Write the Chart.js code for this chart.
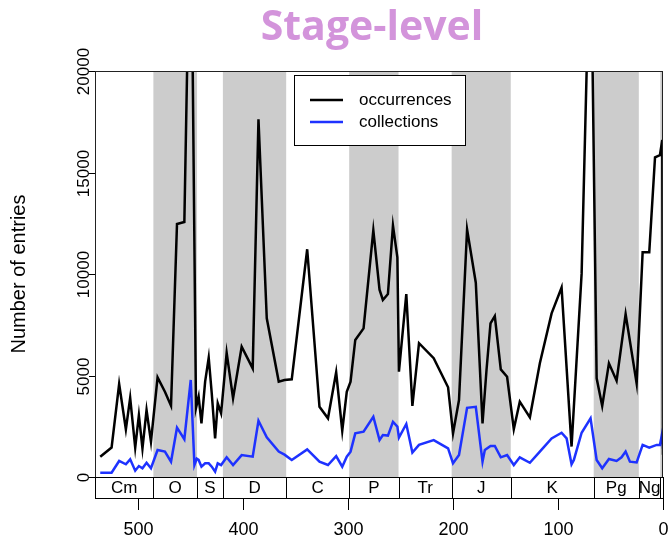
<!DOCTYPE html>
<html>
<head>
<meta charset="utf-8">
<script src="https://cdn.jsdelivr.net/npm/chart.js@4.4.1/dist/chart.umd.min.js"></script>
<style>
  body { margin: 0; background: #fff; }
  #wrap { width: 669px; height: 543px; }
</style>
</head>
<body>
<div id="wrap"><canvas id="stageChart" width="669" height="543"></canvas></div>
<script>
// ages in Ma, counts of PBDB entries per stage
const occAges = [536.0, 525.2, 518.0, 511.6, 507.5, 502.7, 499.2, 495.8, 491.9, 487.7,
  481.4, 474.4, 468.6, 462.9, 455.9, 449.8, 444.8, 442.3, 439.6, 436.1,
  432.7, 429.8, 426.6, 424.1, 420.9, 415.6, 409.5, 401.3, 390.8, 385.3,
  377.4, 366.0, 360.5, 353.6, 338.9, 327.2, 319.1, 311.3, 305.5, 301.2,
  297.6, 293.1, 285.2, 275.9, 270.0, 266.8, 262.0, 257.2, 253.0, 251.5,
  244.5, 238.7, 232.4, 218.4, 204.7, 200.0, 194.3, 186.6, 178.3, 171.9,
  168.1, 164.3, 160.2, 154.5, 148.5, 142.1, 136.4, 126.8, 117.3, 106.1,
  96.6, 87.1, 77.5, 69.0, 63.2, 57.9, 51.5, 44.2, 35.6, 25.1,
  19.4, 13.1, 7.6, 2.9, 0.7, 0.0];
const occurrences = [1000, 1450, 4580, 2350, 3900, 1450, 3050, 1410, 3300, 1740,
  4910, 4200, 3510, 12460, 12560, 30000, 3400, 3960, 2640, 4700,
  5880, 4120, 1900, 3630, 3140, 6120, 3880, 6420, 5350, 17620,
  7820, 4700, 4780, 4810, 11220, 3460, 2890, 5160, 2280, 4200,
  4700, 6750, 7320, 12150, 9230, 8720, 9010, 12380, 10820, 5190,
  9010, 3500, 6590, 5850, 4420, 2150, 3790, 12200, 9570, 2640,
  5270, 7570, 7930, 5300, 4940, 2360, 3710, 2940, 5600, 8060,
  9330, 1500, 10030, 27800, 4860, 3500, 5600, 4740, 8030, 4610,
  11070, 11070, 15750, 15860, 16600, 1100];

const colAges = [536.0, 525.2, 518.0, 511.6, 507.5, 502.7, 499.2, 495.8, 491.9, 487.7,
  481.4, 474.4, 468.6, 462.9, 455.9, 449.8, 446.3, 444.1, 442.3, 439.6,
  436.1, 432.7, 429.8, 426.6, 424.1, 420.9, 415.6, 409.5, 401.3, 390.8,
  385.3, 377.4, 366.0, 360.5, 353.6, 338.9, 327.2, 319.1, 311.3, 305.5,
  301.2, 297.6, 293.1, 285.2, 275.9, 270.0, 266.8, 262.0, 257.2, 253.0,
  251.5, 244.5, 238.7, 232.4, 218.4, 204.7, 200.0, 194.3, 186.6, 178.3,
  171.9, 169.7, 164.3, 160.2, 154.5, 148.5, 142.1, 136.4, 126.8, 117.3,
  106.1, 96.6, 91.8, 87.1, 84.9, 77.5, 69.0, 63.2, 57.9, 51.5,
  44.2, 39.5, 35.6, 31.5, 25.1, 19.4, 13.1, 6.0, 2.9, 0.7, 0.0];
const collections = [210, 210, 790, 625, 870, 310, 540, 430, 700, 430,
  1330, 1250, 755, 2430, 1860, 4780, 590, 900, 840, 510,
  675, 675, 510, 260, 675, 590, 970, 590, 1080, 1000,
  2770, 1950, 1250, 1100, 840, 1360, 755, 590, 1030, 510,
  1000, 1250, 2150, 2230, 2970, 1820, 2070, 2040, 2720, 2480,
  1940, 2610, 1200, 1580, 1820, 1410, 675, 1080, 3410, 3460,
  755, 1330, 1530, 1530, 970, 1080, 590, 970, 700, 1250,
  1900, 2180, 1900, 625, 840, 2180, 2890, 840, 430, 890,
  790, 970, 1250, 755, 720, 1580, 1440, 1580, 1580, 2180, 1400];

// geological periods (start, end in Ma)
const periodNames = ['Cm', 'O', 'S', 'D', 'C', 'P', 'Tr', 'J', 'K', 'Pg', 'Ng', ''];
const periodStart = [541, 485.4, 443.8, 419.2, 358.9, 298.9, 251.9, 201.3, 145, 66, 23.03, 2.58];
const periodEnd = [485.4, 443.8, 419.2, 358.9, 298.9, 251.9, 201.3, 145, 66, 23.03, 2.58, 0];
const periodShaded = [false, true, false, true, false, true, false, true, false, true, false, true];

const xTicks = [500, 400, 300, 200, 100, 0];
const yTicks = [0, 5000, 10000, 15000, 20000];

const FONT = '"Liberation Sans", Arial, sans-serif';

const decor = {
  id: 'decor',
  beforeDatasetsDraw(chart) {
    const { ctx, chartArea: a, scales: { x } } = chart;
    ctx.save();
    ctx.fillStyle = '#cccccc';
    periodNames.forEach((n, i) => {
      if (!periodShaded[i]) return;
      const x1 = x.getPixelForValue(periodStart[i]);
      const x2 = x.getPixelForValue(periodEnd[i]);
      ctx.fillRect(x1, a.top, x2 - x1, a.bottom - a.top);
    });
    ctx.restore();
  },
  afterDatasetsDraw(chart) {
    const { ctx, chartArea: a, scales: { x, y } } = chart;
    const boxBottom = a.bottom + 21;
    ctx.save();

    // frame
    ctx.strokeStyle = '#222';
    ctx.lineWidth = 1;
    ctx.strokeRect(a.left + 0.5, a.top + 0.5, a.right - a.left - 1, a.bottom - a.top);

    // period boxes
    ctx.strokeStyle = '#000';
    ctx.fillStyle = '#000';
    ctx.font = '17px ' + FONT;
    ctx.textAlign = 'center';
    ctx.textBaseline = 'middle';
    periodNames.forEach((n, i) => {
      const x1 = x.getPixelForValue(periodStart[i]);
      const x2 = x.getPixelForValue(periodEnd[i]);
      ctx.strokeRect(Math.round(x1) + 0.5, a.bottom + 0.5, Math.round(x2) - Math.round(x1), boxBottom - a.bottom);
      if (n) ctx.fillText(n, (x1 + x2) / 2, a.bottom + 11);
    });

    // x axis ticks and labels
    ctx.font = '18px ' + FONT;
    xTicks.forEach(v => {
      const px = Math.round(x.getPixelForValue(v)) + 0.5;
      ctx.beginPath();
      ctx.moveTo(px, boxBottom);
      ctx.lineTo(px, boxBottom + 12);
      ctx.stroke();
      ctx.fillText(String(v), px, boxBottom + 32);
    });

    // y axis ticks and rotated labels
    ctx.font = '17px ' + FONT;
    yTicks.forEach(v => {
      const py = Math.round(y.getPixelForValue(v)) + 0.5;
      ctx.beginPath();
      ctx.moveTo(a.left, py);
      ctx.lineTo(a.left - 6, py);
      ctx.stroke();
      ctx.save();
      ctx.translate(a.left - 11, py);
      ctx.rotate(-Math.PI / 2);
      ctx.fillText(String(v), 0, 0);
      ctx.restore();
    });

    // y axis title
    ctx.save();
    ctx.font = '20px ' + FONT;
    ctx.translate(19, (a.top + a.bottom) / 2);
    ctx.rotate(-Math.PI / 2);
    ctx.fillText('Number of entries', 0, 0);
    ctx.restore();

    // legend
    const lx = 294, ly = 75, lw = 171, lh = 70;
    ctx.fillStyle = '#fff';
    ctx.fillRect(lx, ly, lw, lh);
    ctx.strokeStyle = '#000';
    ctx.strokeRect(lx + 0.5, ly + 0.5, lw, lh);
    ctx.font = '17px ' + FONT;
    ctx.textAlign = 'left';
    chart.data.datasets.forEach((ds, i) => {
      const ry = ly + 25 + i * 22;
      ctx.strokeStyle = ds.borderColor;
      ctx.lineWidth = 2.5;
      ctx.beginPath();
      ctx.moveTo(lx + 16, ry);
      ctx.lineTo(lx + 49, ry);
      ctx.stroke();
      ctx.fillStyle = '#000';
      ctx.fillText(ds.label, lx + 65, ry);
    });

    // title
    ctx.fillStyle = '#d394db';
    ctx.font = 'bold 41px "Open Sans", sans-serif';
    ctx.textAlign = 'center';
    ctx.textBaseline = 'alphabetic';
    ctx.fillText('Stage-level', 372, 40);

    ctx.restore();
  }
};

const ctx = document.getElementById('stageChart').getContext('2d');
new Chart(ctx, {
  type: 'line',
  data: {
    datasets: [
      {
        label: 'occurrences',
        data: occAges.map((a, i) => ({ x: a, y: occurrences[i] })),
        borderColor: '#000000',
        borderWidth: 2.5,
        pointRadius: 0,
        tension: 0,
        clip: 0
      },
      {
        label: 'collections',
        data: colAges.map((a, i) => ({ x: a, y: collections[i] })),
        borderColor: '#1e32ff',
        borderWidth: 2.5,
        pointRadius: 0,
        tension: 0,
        clip: 0
      }
    ]
  },
  options: {
    responsive: false,
    animation: false,
    layout: { padding: { left: 95, right: 6, top: 71, bottom: 66 } },
    scales: {
      x: { type: 'linear', min: 0, max: 541, reverse: true, display: false },
      y: { type: 'linear', min: 0, max: 20000, display: false }
    },
    plugins: {
      legend: { display: false },
      tooltip: { enabled: false },
      title: { display: false }
    }
  },
  plugins: [decor]
});
</script>
</body>
</html>
